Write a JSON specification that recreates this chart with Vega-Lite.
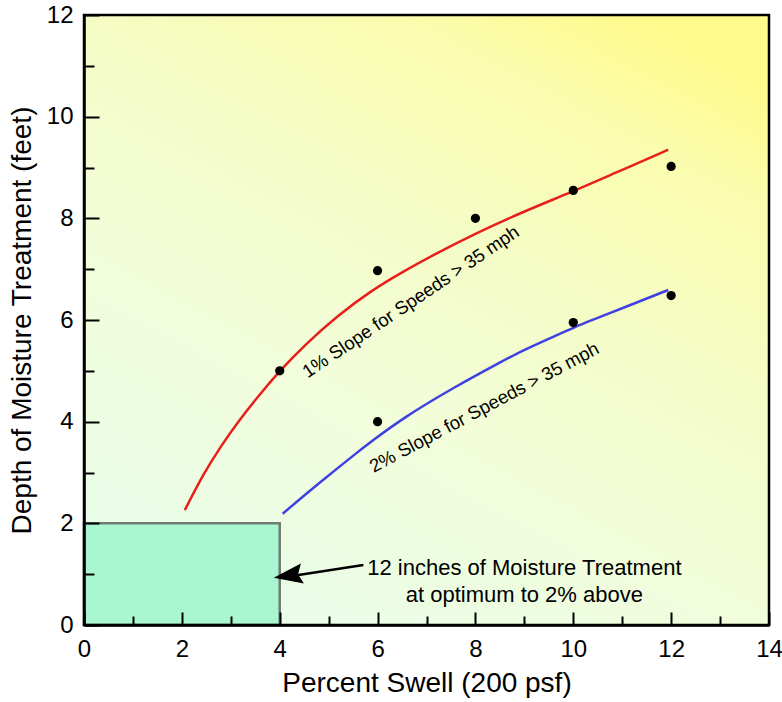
{
  "$schema": "https://vega.github.io/schema/vega-lite/v6.json",
  "width": 685,
  "height": 610,
  "autosize": "none",
  "padding": {"left": 84, "top": 15, "right": 13, "bottom": 77},
  "background": "white",
  "config": {
    "font": "Liberation Sans",
    "view": {"stroke": null}
  },
  "data": {"values": [{"note": "annotation"}]},
  "datasets": {
    "curves": [
      {"curve": "1%", "x": 2.06, "y": 2.26},
      {"curve": "1%", "x": 2.45, "y": 2.99},
      {"curve": "1%", "x": 2.8, "y": 3.52},
      {"curve": "1%", "x": 3.14, "y": 3.99},
      {"curve": "1%", "x": 3.55, "y": 4.49},
      {"curve": "1%", "x": 4.0, "y": 5.0},
      {"curve": "1%", "x": 4.5, "y": 5.5},
      {"curve": "1%", "x": 5.2, "y": 6.1},
      {"curve": "1%", "x": 5.86, "y": 6.57},
      {"curve": "1%", "x": 6.5, "y": 6.94},
      {"curve": "1%", "x": 7.1, "y": 7.26},
      {"curve": "1%", "x": 8.0, "y": 7.7},
      {"curve": "1%", "x": 8.9, "y": 8.1},
      {"curve": "1%", "x": 10.0, "y": 8.53},
      {"curve": "1%", "x": 10.8, "y": 8.87},
      {"curve": "1%", "x": 11.94, "y": 9.35},
      {"curve": "2%", "x": 4.06, "y": 2.19},
      {"curve": "2%", "x": 4.84, "y": 2.82},
      {"curve": "2%", "x": 5.59, "y": 3.4},
      {"curve": "2%", "x": 5.86, "y": 3.6},
      {"curve": "2%", "x": 6.5, "y": 4.06},
      {"curve": "2%", "x": 7.55, "y": 4.67},
      {"curve": "2%", "x": 8.57, "y": 5.2},
      {"curve": "2%", "x": 8.92, "y": 5.38},
      {"curve": "2%", "x": 9.59, "y": 5.67},
      {"curve": "2%", "x": 10.02, "y": 5.86},
      {"curve": "2%", "x": 10.55, "y": 6.06},
      {"curve": "2%", "x": 11.94, "y": 6.59}
    ],
    "points": [
      {"x": 4, "y": 5.0},
      {"x": 6, "y": 6.97},
      {"x": 8, "y": 8.0},
      {"x": 10, "y": 8.55},
      {"x": 12, "y": 9.02},
      {"x": 6, "y": 4.0},
      {"x": 10, "y": 5.95},
      {"x": 12, "y": 6.48}
    ]
  },
  "layer": [
    {
      "mark": {
        "type": "rect",
        "color": {
          "gradient": "linear",
          "x1": 0.2, "y1": 1, "x2": 0.8, "y2": 0,
          "stops": [
            {"offset": 0, "color": "#e8fdea"},
            {"offset": 0.35, "color": "#f2fddb"},
            {"offset": 0.6, "color": "#f4fcc8"},
            {"offset": 0.85, "color": "#fafcae"},
            {"offset": 1, "color": "#fffa8c"}
          ]
        }
      },
      "encoding": {
        "x": {"datum": 0, "type": "quantitative"},
        "x2": {"datum": 14},
        "y": {"datum": 0, "type": "quantitative"},
        "y2": {"datum": 12}
      }
    },
    {
      "mark": {"type": "rect", "fill": "#a8f7d0", "stroke": "#6f7a72", "strokeWidth": 2.5},
      "encoding": {
        "x": {"datum": 0, "type": "quantitative"},
        "x2": {"datum": 4},
        "y": {"datum": 0, "type": "quantitative"},
        "y2": {"datum": 2}
      }
    },
    {
      "data": {"name": "curves"},
      "mark": {"type": "line", "interpolate": "basis", "strokeWidth": 2.5},
      "encoding": {
        "x": {
          "field": "x",
          "type": "quantitative",
          "scale": {"domain": [0, 14], "nice": false, "zero": false},
          "axis": {
            "zindex": 1,
            "title": "Percent Swell (200 psf)",
            "titleFontSize": 28,
            "titleFontWeight": "normal",
            "titleColor": "black",
            "titlePadding": 8,
            "values": [0, 1, 2, 3, 4, 5, 6, 7, 8, 9, 10, 11, 12, 13, 14],
            "labelExpr": "datum.value % 2 === 0 ? datum.label : ''",
            "labelFontSize": 24,
            "labelColor": "black",
            "labelFlush": false,
            "labelPadding": 25,
            "grid": false,
            "tickColor": "black",
            "tickWidth": 2,
            "tickSize": {"condition": {"test": "datum.value % 2 === 0", "value": -13}, "value": -9},
            "domainColor": "black",
            "domainWidth": 2.5
          }
        },
        "y": {
          "field": "y",
          "type": "quantitative",
          "scale": {"domain": [0, 12], "nice": false, "zero": false},
          "axis": {
            "zindex": 1,
            "title": "Depth of Moisture Treatment (feet)",
            "titleFontSize": 28,
            "titleFontWeight": "normal",
            "titleColor": "black",
            "titlePadding": 10,
            "values": [0, 1, 2, 3, 4, 5, 6, 7, 8, 9, 10, 11, 12],
            "labelExpr": "datum.value % 2 === 0 ? datum.label : ''",
            "labelFontSize": 24,
            "labelColor": "black",
            "labelFlush": false,
            "labelPadding": 26,
            "grid": false,
            "tickColor": "black",
            "tickWidth": 2,
            "tickSize": {"condition": {"test": "datum.value % 2 === 0", "value": -15}, "value": -10},
            "domainColor": "black",
            "domainWidth": 2.5
          }
        },
        "color": {
          "field": "curve",
          "type": "nominal",
          "scale": {"domain": ["1%", "2%"], "range": ["#e8201c", "#4040e0"]},
          "legend": null
        }
      }
    },
    {
      "data": {"name": "points"},
      "mark": {"type": "point", "filled": true, "color": "black", "size": 85, "opacity": 1},
      "encoding": {
        "x": {"field": "x", "type": "quantitative"},
        "y": {"field": "y", "type": "quantitative"}
      }
    },
    {
      "mark": {"type": "text", "text": "1% Slope for Speeds > 35 mph", "angle": -34, "fontSize": 18.5, "align": "center", "baseline": "middle", "color": "black"},
      "encoding": {
        "x": {"datum": 6.68, "type": "quantitative"},
        "y": {"datum": 6.36, "type": "quantitative"}
      }
    },
    {
      "mark": {"type": "text", "text": "2% Slope for Speeds > 35 mph", "angle": -28, "fontSize": 18.5, "align": "center", "baseline": "middle", "color": "black"},
      "encoding": {
        "x": {"datum": 8.18, "type": "quantitative"},
        "y": {"datum": 4.28, "type": "quantitative"}
      }
    },
    {
      "mark": {"type": "text", "text": ["12 inches of Moisture Treatment", "at optimum to 2% above"], "fontSize": 22, "lineHeight": 27, "align": "center", "baseline": "middle", "color": "black"},
      "encoding": {
        "x": {"datum": 9.0, "type": "quantitative"},
        "y": {"datum": 1.115, "type": "quantitative"}
      }
    },
    {
      "mark": {"type": "rule", "color": "black", "strokeWidth": 2.5},
      "encoding": {
        "x": {"datum": 5.71, "type": "quantitative"},
        "x2": {"datum": 4.15},
        "y": {"datum": 1.18, "type": "quantitative"},
        "y2": {"datum": 0.95}
      }
    },
    {
      "mark": {"type": "point", "shape": "M-1,0L1,-0.7L0.7,0L1,0.7Z", "filled": true, "color": "black", "opacity": 1, "size": 841, "angle": -8.5},
      "encoding": {
        "x": {"datum": 4.17, "type": "quantitative"},
        "y": {"datum": 0.97, "type": "quantitative"}
      }
    },
    {
      "mark": {"type": "rect", "fill": null, "stroke": "black", "strokeWidth": 2.5},
      "encoding": {
        "x": {"datum": 0, "type": "quantitative"},
        "x2": {"datum": 14},
        "y": {"datum": 0, "type": "quantitative"},
        "y2": {"datum": 12}
      }
    }
  ]
}
